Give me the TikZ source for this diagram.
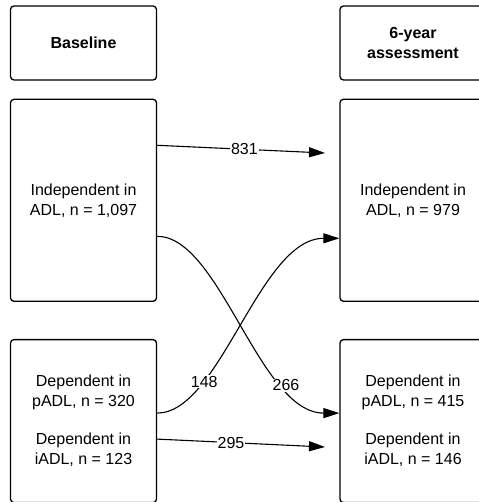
\documentclass[tikz,border=0pt]{standalone}
\usepackage{fontspec}
\setmainfont{Liberation Sans}
\usepackage{tikz}
\usetikzlibrary{positioning,arrows.meta}

\begin{document}
\begin{tikzpicture}[x=1pt, y=-1pt,
        boxnode/.style={rectangle, draw=black, line width=1.3pt, rounded corners=3.5pt, fill=white,
                        minimum width=146pt, align=center, font=\fontsize{16}{20}\selectfont},
        flow/.style={line width=1.1pt, -{Triangle[length=16pt,width=10pt]}},
        count/.style={fill=white, inner sep=1pt, font=\fontsize{16}{20}\selectfont}]

        \useasboundingbox (0,0) rectangle (478,502);

        \node[boxnode, minimum height=74pt, font=\fontsize{16}{20}\selectfont\bfseries] (base) at (83.5,43) {Baseline};
        \node[boxnode, minimum height=74pt, font=\fontsize{16}{20}\selectfont\bfseries] (six) at (413,43) {6-year\\assessment};
        \node[boxnode, minimum height=202pt] (indl) [below=18pt of base] {Independent in\\ADL, n = 1,097};
        \node[boxnode, minimum height=202pt] (indr) [below=18pt of six] {Independent in\\ADL, n = 979};
        \node[boxnode, minimum height=163pt] (depl) [below=37pt of indl] {Dependent in\\pADL, n = 320\\[18pt]Dependent in\\iADL, n = 123};
        \node[boxnode, minimum height=163pt] (depr) [below=37pt of indr] {Dependent in\\pADL, n = 415\\[18pt]Dependent in\\iADL, n = 146};

        \coordinate (a831) at (325,153);
        \coordinate (a295) at (325,447);

        \draw[flow] ([yshift=55pt]indl.east) -- node[count, pos=0.52] {831} (a831);
        \draw[flow] ([yshift=-18pt]depl.east) -- node[count, pos=0.44] {295} (a295);
        \draw[flow] ([yshift=-36pt]indl.east) .. controls +(63,0) and +(-80,0) .. node[count, pos=0.75] {266} ([yshift=8pt]depr.west);
        \draw[flow] ([yshift=8pt]depl.east) .. controls +(63,0) and +(-80,0) .. node[count, pos=0.27] {148} ([yshift=-38pt]indr.west);

        \end{tikzpicture}
\end{document}
